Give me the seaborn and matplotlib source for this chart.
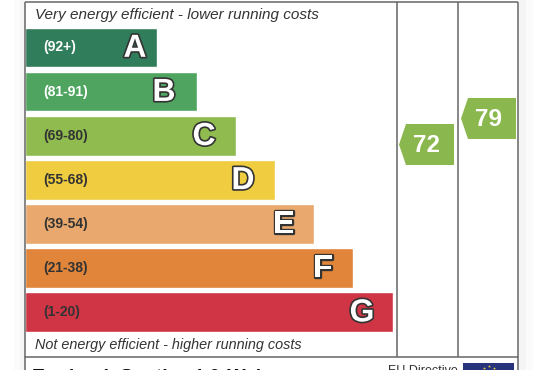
import pandas as pd
import seaborn as sns
import matplotlib.pyplot as plt
import matplotlib.patheffects as pe
from matplotlib.patches import Polygon, Rectangle

# EPC bands, bar length in pixels
bands = ['A', 'B', 'C', 'D', 'E', 'F', 'G']
ranges = ['(92+)', '(81-91)', '(69-80)', '(55-68)', '(39-54)', '(21-38)', '(1-20)']
bar_lengths = [132, 172, 211, 250, 289, 328, 368]
band_colors = ['#2f7d5b', '#4fa460', '#8fbb4f', '#f0cd40', '#e9a96e', '#e0853a', '#cf3545']
range_colors = ['white', 'white', '#333333', '#333333', '#333333', '#333333', '#333333']

current_score = 72
potential_score = 79
tag_color = '#8ab84e'

top_text = 'Very energy efficient - lower running costs'
bottom_text = 'Not energy efficient - higher running costs'
footer_left = 'England, Scotland & Wales'
footer_right = 'EU Directive'

W, H = 536, 370
LINE = '#666666'

sns.set_theme(style='white')
plt.rcParams['font.family'] = ['Liberation Sans', 'DejaVu Sans']

fig = plt.figure(figsize=(W / 100, H / 100), dpi=100, facecolor='white')

# overlay in pixel coordinates for frame, tags and footer
px = fig.add_axes([0, 0, 1, 1], zorder=2)
px.set_xlim(0, W)
px.set_ylim(H, 0)
px.axis('off')
px.patch.set_alpha(0)

# bars live in their own axes, left edge on the frame line
ax = fig.add_axes([25 / W, 1 - 357 / H, 493 / W, 355 / H], zorder=1)
df = pd.DataFrame({'band': bands, 'length': bar_lengths})
sns.barplot(data=df, x='length', y='band', hue='band', palette=band_colors,
            saturation=1, width=0.9, legend=False, ax=ax)
ax.set_xlim(0, 493)
pitch = 44.1
ax.set_ylim((357 - 47.5) / pitch, (2 - 47.5) / pitch)
ax.axis('off')

# the letters do not sit at one fixed distance from the bar end
letter_offsets = {'A': 22, 'B': 33, 'C': 32, 'D': 32, 'E': 30, 'F': 30, 'G': 31}

for i, band in enumerate(bands):
    ax.text(18, i, ranges[i], color=range_colors[i], fontsize=10, fontweight='bold',
            ha='left', va='center')
    ax.text(bar_lengths[i] - letter_offsets[band], i + 0.03, band, color='white', fontsize=23,
            fontweight='bold', ha='center', va='center',
            path_effects=[pe.withStroke(linewidth=2.4, foreground='#333333')])

# soft shadow beside the page
for x0, x1, c in [(14, 20, '#fbfbfb'), (20, 25, '#f6f6f6'), (519, 526, '#f5f5f5'), (526, 533, '#fbfbfb')]:
    px.add_patch(Rectangle((x0, 0), x1 - x0, H, color=c, lw=0, zorder=0))

# frame
for x in [25, 397, 458, 518]:
    px.plot([x, x], [2, 357], color=LINE, lw=1.1, solid_capstyle='butt')
for y in [2, 357]:
    px.plot([25, 518], [y, y], color=LINE, lw=1.1, solid_capstyle='butt')
px.plot([25, 25], [357, H], color=LINE, lw=1.1)
px.plot([518, 518], [357, H], color=LINE, lw=1.1)


def score_tag(left, top, score):
    right, bottom = left + 55, top + 41
    px.add_patch(Polygon([(left, top + 20.5), (left + 7, top), (right, top), (right, bottom),
                          (left + 7, bottom)], closed=True, color=tag_color, lw=0))
    px.text(left + 27, top + 21, str(score), color='white', fontsize=17.5, fontweight='bold',
            ha='center', va='center')


score_tag(399, 124, current_score)
score_tag(461, 98, potential_score)

px.text(35, 15, top_text, fontsize=10.95, fontstyle='italic', color='#333333', ha='left', va='center')
px.text(35, 345, bottom_text, fontsize=10.4, fontstyle='italic', color='#333333', ha='left', va='center')

# footer is cut by the bottom edge
px.text(32, 378, footer_left, fontsize=14, fontweight='bold', color='#111111', ha='left', va='center')
px.text(388, 371, footer_right, fontsize=9, color='#333333', ha='left', va='center')
px.add_patch(Rectangle((463, 363), 51, 10, color='#27337a', lw=0))
px.scatter([484, 489, 494], [367.5, 366, 367.5], s=5, marker='*', color='#f2d43c', lw=0)

fig.savefig('out.png', dpi=100)
plt.close(fig)
